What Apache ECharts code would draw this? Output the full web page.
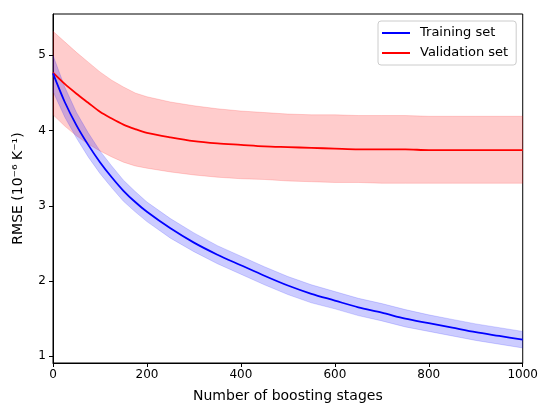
<!DOCTYPE html>
<html>
<head>
<meta charset="utf-8">
<script src="https://cdn.jsdelivr.net/npm/echarts@6/dist/echarts.min.js"></script>
<style>html,body{margin:0;padding:0;background:#fff}#c{width:541px;height:408px}</style>
</head>
<body>
<div id="c"></div>
<script>
const stages = [0,25,50,75,100,125,150,175,200,250,300,350,400,450,500,550,600,650,700,750,800,850,900,950,1000];
const trainMean  = [4.76,4.38,4.07,3.81,3.58,3.38,3.20,3.05,2.92,2.70,2.51,2.35,2.21,2.07,1.94,1.83,1.74,1.65,1.58,1.50,1.44,1.38,1.32,1.27,1.22];
const trainUpper = [5.00,4.58,4.24,3.97,3.73,3.53,3.34,3.19,3.05,2.83,2.64,2.47,2.33,2.19,2.06,1.95,1.86,1.77,1.70,1.62,1.55,1.49,1.43,1.38,1.33];
const trainLower = [4.52,4.18,3.90,3.65,3.43,3.24,3.06,2.92,2.79,2.57,2.39,2.23,2.09,1.95,1.82,1.71,1.63,1.54,1.47,1.39,1.33,1.27,1.21,1.16,1.11];
const valMean    = [4.77,4.62,4.49,4.37,4.25,4.16,4.08,4.02,3.97,3.91,3.86,3.83,3.81,3.79,3.78,3.77,3.76,3.75,3.75,3.75,3.74,3.74,3.74,3.74,3.74];
const valUpper   = [5.32,5.18,5.04,4.91,4.78,4.67,4.58,4.50,4.45,4.38,4.33,4.29,4.26,4.24,4.22,4.21,4.21,4.20,4.20,4.20,4.19,4.19,4.19,4.19,4.19];
const valLower   = [4.21,4.06,3.93,3.82,3.73,3.65,3.58,3.53,3.50,3.45,3.41,3.38,3.36,3.35,3.33,3.32,3.31,3.31,3.30,3.30,3.30,3.30,3.30,3.30,3.30];
const xTicks = [0,200,400,600,800,1000];
const yTicks = [1,2,3,4,5];

const pairs = a => stages.map((x,i)=>[x,a[i]]);
const bandData = (l,u) => stages.map((x,i)=>[x,l[i],u[i]]);
const SM = 0.3;
const font = 'DejaVu Sans';

function bandRenderer(lower, upper, fill) {
  return function(params, api) {
    if (params.dataIndex !== 0) return null;
    const top = stages.map((x,i)=>api.coord([x, upper[i]]));
    const bot = stages.map((x,i)=>api.coord([x, lower[i]])).reverse();
    return {
      type:'polygon',
      shape:{points: top.concat(bot), smooth: 0},
      style:{fill: fill, stroke: fill, lineWidth: 0.8}
    };
  };
}

const chart = echarts.init(document.getElementById('c'), null, {renderer:'canvas'});
chart.setOption({
  animation:false,
  backgroundColor:'#fff',
  textStyle:{fontFamily:font},
  grid:{left:53,right:18,top:14,bottom:44,show:true,borderColor:'#000',borderWidth:1,backgroundColor:'transparent'},
  legend:{
    orient:'vertical', left:378, top:21,
    data:['Training set','Validation set'],
    icon:'rect', itemWidth:28, itemHeight:2, itemGap:6,
    padding:[5,8,5,4],
    borderColor:'#cccccc', borderWidth:1, borderRadius:3,
    backgroundColor:'rgba(255,255,255,0.8)',
    textStyle:{fontFamily:font,fontSize:13,color:'#000',padding:[0,0,0,5],lineHeight:14}
  },
  xAxis:{
    type:'value', min:0, max:1000,
    name:'Number of boosting stages', nameLocation:'middle', nameGap:26,
    nameTextStyle:{fontFamily:font,fontSize:14,color:'#000'},
    axisLine:{show:true,lineStyle:{color:'#000',width:1}},
    axisTick:{show:true,length:4,lineStyle:{color:'#000'},customValues:xTicks},
    axisLabel:{fontFamily:font,fontSize:12,color:'#000',margin:6,customValues:xTicks,formatter:v=>String(v)},
    splitLine:{show:false}
  },
  yAxis:{
    type:'value', min:0.91, max:5.55,
    name:'RMSE (10\u207B\u2076 K\u207B\u00B9)', nameLocation:'middle', nameGap:28,
    nameTextStyle:{fontFamily:font,fontSize:14,color:'#000'},
    axisLine:{show:true,lineStyle:{color:'#000',width:1}},
    axisTick:{show:true,length:4,lineStyle:{color:'#000'},customValues:yTicks},
    axisLabel:{fontFamily:font,fontSize:12,color:'#000',margin:7,customValues:yTicks,formatter:v=>String(v)},
    splitLine:{show:false}
  },
  series:[
    {type:'custom',data:bandData(valLower,valUpper),encode:{x:0,y:[1,2]},renderItem:bandRenderer(valLower,valUpper,'rgba(255,0,0,0.2)'),silent:true,z:1,clip:true},
    {type:'custom',data:bandData(trainLower,trainUpper),encode:{x:0,y:[1,2]},renderItem:bandRenderer(trainLower,trainUpper,'rgba(0,0,255,0.2)'),silent:true,z:2,clip:true},
    {name:'Validation set',type:'line',data:pairs(valMean),symbol:'none',smooth:SM,color:'#ff0000',lineStyle:{color:'#ff0000',width:1.8},z:3},
    {name:'Training set',type:'line',data:pairs(trainMean),symbol:'none',smooth:SM,color:'#0000ff',lineStyle:{color:'#0000ff',width:1.8},z:4}
  ]
});
</script>
</body>
</html>
